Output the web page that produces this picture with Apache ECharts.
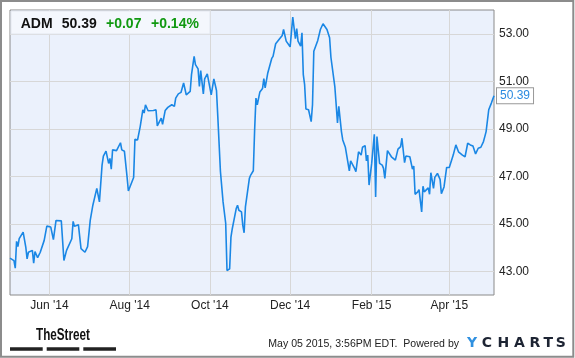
<!DOCTYPE html>
<html>
<head>
<meta charset="utf-8">
<script src="https://cdn.jsdelivr.net/npm/echarts@6/dist/echarts.min.js"></script>
<style>
html,body{margin:0;padding:0;background:#fff;}
#c{width:575px;height:358px;}
</style>
</head>
<body>
<div id="c"></div>
<script>
const dates = [
'2014-05-02','2014-05-05','2014-05-06','2014-05-07','2014-05-08','2014-05-09','2014-05-12','2014-05-14','2014-05-15','2014-05-16','2014-05-19','2014-05-20','2014-05-21','2014-05-23','2014-05-25','2014-05-28','2014-05-29','2014-05-30',
'2014-06-02','2014-06-04','2014-06-06','2014-06-10','2014-06-12','2014-06-14','2014-06-18','2014-06-19','2014-06-20','2014-06-23','2014-06-25','2014-06-28','2014-06-30',
'2014-07-02','2014-07-04','2014-07-07','2014-07-09','2014-07-11','2014-07-12','2014-07-14','2014-07-16','2014-07-17','2014-07-18','2014-07-19','2014-07-22','2014-07-25','2014-07-26','2014-07-28','2014-07-30','2014-07-31',
'2014-08-04','2014-08-05','2014-08-07','2014-08-09','2014-08-11','2014-08-12','2014-08-13','2014-08-15','2014-08-19','2014-08-21','2014-08-22','2014-08-25','2014-08-26','2014-08-28','2014-08-30',
'2014-09-02','2014-09-04','2014-09-05','2014-09-07','2014-09-09','2014-09-11','2014-09-13','2014-09-16','2014-09-17','2014-09-18','2014-09-19','2014-09-20','2014-09-22','2014-09-23','2014-09-24','2014-09-26','2014-09-27','2014-09-29',
'2014-10-02','2014-10-04','2014-10-06','2014-10-07','2014-10-09','2014-10-11','2014-10-13','2014-10-14','2014-10-15','2014-10-16','2014-10-17','2014-10-18','2014-10-21','2014-10-22','2014-10-23','2014-10-25','2014-10-26','2014-10-27','2014-10-28','2014-10-29','2014-10-31',
'2014-11-01','2014-11-03','2014-11-04','2014-11-05','2014-11-06','2014-11-08','2014-11-10','2014-11-11','2014-11-12','2014-11-14','2014-11-17','2014-11-18','2014-11-20','2014-11-23','2014-11-25','2014-11-26','2014-11-28',
'2014-12-01','2014-12-03','2014-12-05','2014-12-06','2014-12-07','2014-12-09','2014-12-10','2014-12-11','2014-12-12','2014-12-13','2014-12-15','2014-12-17','2014-12-18','2014-12-19','2014-12-22','2014-12-24','2014-12-25','2014-12-26','2014-12-29','2014-12-31',
'2015-01-01','2015-01-02','2015-01-04','2015-01-05','2015-01-06','2015-01-07','2015-01-09','2015-01-10','2015-01-12','2015-01-13','2015-01-15','2015-01-16','2015-01-19','2015-01-20','2015-01-22','2015-01-24','2015-01-25','2015-01-27','2015-01-28','2015-01-29','2015-01-30',
'2015-02-01','2015-02-03','2015-02-04','2015-02-05','2015-02-07','2015-02-09','2015-02-10','2015-02-11','2015-02-13','2015-02-16','2015-02-19','2015-02-21','2015-02-23','2015-02-24','2015-02-26','2015-02-27',
'2015-03-02','2015-03-04','2015-03-05','2015-03-06','2015-03-08','2015-03-09','2015-03-11','2015-03-12','2015-03-13','2015-03-16','2015-03-17','2015-03-18','2015-03-20','2015-03-21','2015-03-23','2015-03-25','2015-03-26','2015-03-28','2015-03-30',
'2015-04-01','2015-04-04','2015-04-06','2015-04-08','2015-04-09','2015-04-11','2015-04-13','2015-04-15','2015-04-17','2015-04-19','2015-04-20','2015-04-21','2015-04-23','2015-04-25','2015-04-27','2015-04-28','2015-04-29','2015-04-30',
'2015-05-01','2015-05-03','2015-05-05'
];
const prices = [
43.55,43.45,43.13,44.26,44.04,44.37,44.65,44.02,43.52,43.80,43.88,43.34,43.83,43.57,43.80,44.30,44.33,44.90,
44.86,44.33,45.14,45.12,43.45,43.88,44.37,45.10,44.89,44.96,43.95,43.80,44.04,
45.14,45.78,46.49,45.92,47.47,47.85,48.06,47.54,47.75,47.30,48.11,48.08,48.41,48.11,48.05,46.98,46.38,
46.95,48.56,48.53,49.09,49.80,49.66,50.01,49.76,49.77,49.80,49.12,49.45,49.19,49.77,49.90,
50.01,49.94,50.29,50.47,50.53,50.93,50.43,50.57,51.28,51.28,52.05,51.70,51.52,50.78,51.45,50.47,51.10,51.31,
50.43,51.10,50.61,49.51,47.20,45.92,45.02,43.03,42.96,43.10,44.44,44.79,45.64,45.78,45.57,45.50,44.93,44.62,45.71,45.78,46.91,
47.05,47.23,48.95,50.29,50.01,50.55,50.69,51.11,50.72,51.35,51.96,52.05,52.58,52.79,52.93,53.18,52.69,
52.45,53.70,52.79,53.22,52.69,52.48,53.04,51.28,50.86,49.83,49.80,49.30,50.01,52.26,52.72,53.18,53.11,53.42,53.18,52.83,
52.01,52.01,50.76,50.01,49.24,49.94,48.88,48.53,48.22,48.25,47.23,47.65,47.33,47.19,48.03,47.89,48.22,48.29,47.65,47.89,46.63,
47.54,48.77,46.13,48.67,47.54,47.47,47.33,46.91,48.08,47.82,47.68,48.14,48.25,48.60,47.57,47.85,
47.82,47.30,47.43,46.24,46.34,46.44,45.50,46.58,46.34,46.51,46.24,47.15,46.49,46.95,47.12,46.87,46.27,46.55,47.37,
47.37,47.89,48.32,48.03,48.01,47.89,47.82,48.39,48.32,48.27,48.32,47.94,48.18,48.22,48.46,48.67,48.88,48.88,
49.80,50.08,50.39
];
const xTickDates = ['2014-06-01','2014-08-01','2014-10-01','2014-12-01','2015-02-01','2015-04-01'];
const xTickLabels = ["Jun '14","Aug '14","Oct '14","Dec '14","Feb '15","Apr '15"];
const yTicks = [43,45,47,49,51,53];
const xRange = ['2014-05-02','2015-05-05'];
const yRange = [42,54];

const ticker = 'ADM';
const lastPrice = '50.39';
const change = '+0.07';
const changePct = '+0.14%';
const stampText = 'May 05 2015, 3:56PM EDT.  Powered by';
const streetBrand = 'TheStreet';
const ychartsLetters = ['Y','C','H','A','R','T','S'];

const pd = s => echarts.number.parseDate(s).getTime();
const xTickVals = xTickDates.map(pd);
const seriesData = dates.map((d, i) => [pd(d), prices[i]]);

const FONT = '"Liberation Sans", Arial, sans-serif';
const chart = echarts.init(document.getElementById('c'), null, {renderer: 'canvas'});

const letterX = [472, 487, 503.3, 519.5, 535, 548.3, 560.8];
const brandGraphics = ychartsLetters.map((ch, i) => ({
  type: 'text', x: letterX[i], y: 343.5, z: 100,
  style: { text: ch, font: 'bold 14px "DejaVu Sans", sans-serif', fill: i === 0 ? '#2f90e0' : '#1d2433', textAlign: 'center', textVerticalAlign: 'middle' }
}));

chart.setOption({
  animation: false,
  grid: { left: 10, right: 81, top: 10, bottom: 63, show: true, backgroundColor: '#ebf1fc', borderColor: '#8a8a8a', borderWidth: 1 },
  xAxis: {
    type: 'value', min: pd(xRange[0]), max: pd(xRange[1]),
    axisLine: { show: false },
    axisTick: { show: false, customValues: xTickVals },
    axisLabel: {
      customValues: xTickVals, margin: 5, color: '#222', fontSize: 12, fontFamily: FONT,
      formatter: v => { const i = xTickVals.findIndex(t => Math.abs(t - v) < 43200000); return i >= 0 ? xTickLabels[i] : ''; }
    },
    splitLine: { show: true, lineStyle: { color: '#d7d7d7', width: 1 } }
  },
  yAxis: {
    type: 'value', position: 'right', min: yRange[0], max: yRange[1],
    axisLine: { show: false },
    axisTick: { show: false, customValues: yTicks },
    axisLabel: { customValues: yTicks, margin: 5, color: '#222', fontSize: 12, fontFamily: FONT, formatter: v => v.toFixed(2) },
    splitLine: { show: true, lineStyle: { color: '#d7d7d7', width: 1 } }
  },
  series: [{
    type: 'line', data: seriesData, showSymbol: false, silent: true,
    lineStyle: { color: '#1a87e5', width: 1.6 },
    itemStyle: { color: '#1a87e5' },
    endLabel: {
      show: true, distance: 3, formatter: p => p.value[1].toFixed(2),
      color: '#2a8ae0', fontSize: 12, fontFamily: FONT,
      backgroundColor: '#fff', borderColor: '#999', borderWidth: 1, padding: [2, 3, 1, 3]
    }
  }],
  graphic: [
    { type: 'rect', z: 100, shape: { x: 1, y: 1, width: 572.3, height: 355.7 }, style: { fill: 'transparent', stroke: '#8c8c8c', lineWidth: 2 } },
    { type: 'rect', z: 100, shape: { x: 11, y: 11, width: 199, height: 23 }, style: { fill: '#f4f7fd', stroke: '#e3e7ef', lineWidth: 1 } },
    { type: 'text', z: 101, x: 20.7, y: 24, style: { text: ticker, font: 'bold 14px ' + FONT, fill: '#111', textVerticalAlign: 'middle' } },
    { type: 'text', z: 101, x: 61.7, y: 24, style: { text: lastPrice, font: 'bold 14px ' + FONT, fill: '#111', textVerticalAlign: 'middle' } },
    { type: 'text', z: 101, x: 106, y: 24, style: { text: change, font: 'bold 14px ' + FONT, fill: '#119911', textVerticalAlign: 'middle' } },
    { type: 'text', z: 101, x: 151, y: 24, style: { text: changePct, font: 'bold 14px ' + FONT, fill: '#119911', textVerticalAlign: 'middle' } },
    { type: 'text', z: 100, x: 63, y: 336, scaleX: 0.73, style: { text: streetBrand, font: 'bold 16px ' + FONT, fill: '#111', textAlign: 'center', textVerticalAlign: 'middle' } },
    { type: 'rect', z: 100, shape: { x: 10, y: 347.3, width: 32.7, height: 3.4 }, style: { fill: '#222' } },
    { type: 'rect', z: 100, shape: { x: 46.7, y: 347.3, width: 32.6, height: 3.4 }, style: { fill: '#222' } },
    { type: 'rect', z: 100, shape: { x: 83.3, y: 347.3, width: 32.7, height: 3.4 }, style: { fill: '#222' } },
    { type: 'text', z: 100, x: 268.3, y: 344, scaleX: 0.96, style: { text: stampText, font: '11px ' + FONT, fill: '#222', textVerticalAlign: 'middle' } }
  ].concat(brandGraphics)
});
</script>
</body>
</html>
